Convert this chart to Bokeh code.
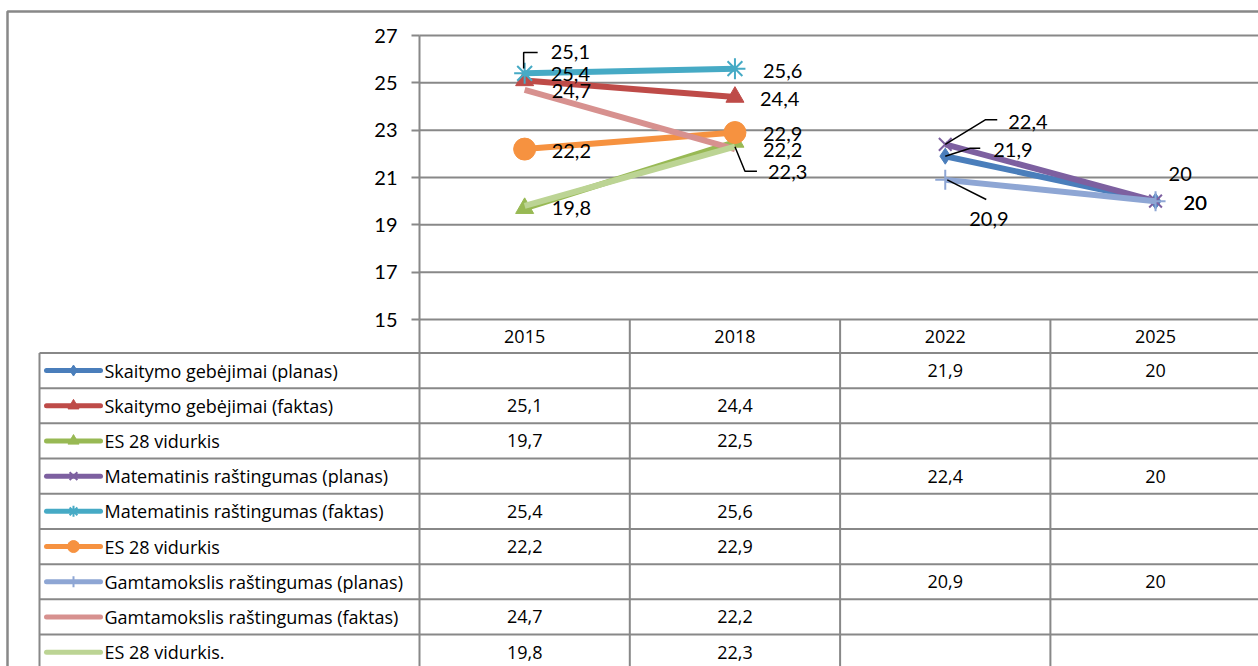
import math
from bokeh.plotting import figure
from bokeh.models import Range1d, LinearAxis, FixedTicker, ColumnDataSource
from bokeh.embed import file_html
from bokeh.resources import INLINE
from bokeh.core.properties import value

# ---------------- data ----------------
NaN = float("nan")
years = ["2015", "2018", "2022", "2025"]
series_names = [
    "Skaitymo gebėjimai (planas)",
    "Skaitymo gebėjimai (faktas)",
    "ES 28 vidurkis",
    "Matematinis raštingumas (planas)",
    "Matematinis raštingumas (faktas)",
    "ES 28 vidurkis",
    "Gamtamokslis raštingumas (planas)",
    "Gamtamokslis raštingumas (faktas)",
    "ES 28 vidurkis.",
]
skaitymo_planas = [NaN, NaN, 21.9, 20]
skaitymo_faktas = [25.1, 24.4, NaN, NaN]
es28_a = [19.7, 22.5, NaN, NaN]
matem_planas = [NaN, NaN, 22.4, 20]
matem_faktas = [25.4, 25.6, NaN, NaN]
es28_b = [22.2, 22.9, NaN, NaN]
gamt_planas = [NaN, NaN, 20.9, 20]
gamt_faktas = [24.7, 22.2, NaN, NaN]
es28_c = [19.8, 22.3, NaN, NaN]
series_values = [skaitymo_planas, skaitymo_faktas, es28_a, matem_planas,
                 matem_faktas, es28_b, gamt_planas, gamt_faktas, es28_c]
yticks = [15, 17, 19, 21, 23, 25, 27]

# ---------------- styles ----------------
colors = ["#4A7EBB", "#BE4B48", "#98B954", "#7D60A0", "#46AAC5",
          "#F69240", "#8EA6D4", "#D7918F", "#BCD494"]
markers = ["diamond", "triangle", "triangle", "x", "asterisk",
           "circle", "cross", None, None]
msizes = [16, 18, 18, 18, 21, 22, 20, 0, 0]
mwidths = [1, 1, 1, 2, 2, 1, 2, 1, 1]
leg_msizes = [11, 11, 11, 11, 11, 12, 11, 0, 0]

# data labels: (series, category, dx_px, dy_px)
labels_spec = [
    (1, 0, 26, -28), (4, 0, 26, 1), (7, 0, 27, 1),
    (4, 1, 28, 2), (1, 1, 25, 2),
    (5, 0, 27, 2), (5, 1, 28, 1), (7, 1, 28, 1),
    (8, 1, 33, 25), (8, 0, 27, 2),
    (3, 2, 63, -22), (0, 2, 48, -6), (6, 2, 24, 39),
    (0, 3, 13, -27), (3, 3, 28, 2), (6, 3, 28, 2),
]
# leader lines in px offsets from their point
leaders_spec = [
    (1, 0, [(-1, -12), (-1, -28), (13, -28)]),
    (8, 1, [(0, 0), (10, 24.5), (22, 24.5)]),
    (3, 2, [(0, 0), (40, -24.6), (52, -24.6)]),
    (0, 2, [(0, 0), (25, -8), (35, -8)]),
    (6, 2, [(2, 0), (41, 19.6)]),
]

# ---------------- geometry (canvas px) ----------------
W, H = 1258, 666
AX_X = 419          # y axis position
CAT_W = 210.3       # width of one category
Y27, Y15 = 35, 319  # pixel rows of 27 and 15
px_x = CAT_W
px_y = (Y15 - Y27) / 12.0
x_start = (0 - AX_X) / px_x
x_end = (W - AX_X) / px_x
y_end = 27 + Y27 / px_y
y_start = 15 - (H - Y15) / px_y

FONT = "Lato"
TFONT = "Open Sans"
TSIZE = "18px"
GRID = "#888888"

p = figure(width=W, height=H, output_backend="svg", toolbar_location=None,
           x_range=Range1d(x_start, x_end), y_range=Range1d(y_start, y_end),
           x_axis_type=None, y_axis_type=None, min_border=0)
p.outline_line_color = None
p.background_fill_color = "white"
p.border_fill_color = "white"
p.xgrid.visible = False
p.ygrid.visible = False

# table range: row units, 0 at the 15-line, increasing downward
row_px = 35.2
p.extra_y_ranges = {"table": Range1d(start=(H - Y15) / row_px, end=-Y15 / row_px)}

def cx(px):
    return (px - AX_X) / px_x

def cy(py):
    return 27 + (Y27 - py) / px_y

# outer chart border
p.line(x=[cx(7), cx(7), x_end + 1], y=[y_start - 1, cy(11), cy(11)],
       line_color=GRID, line_width=2.5)

# horizontal gridlines (from tick values)
p.segment(x0=[0] * len(yticks), x1=[4] * len(yticks), y0=yticks, y1=yticks,
          line_color=GRID, line_width=2)

# y axis
yaxis = LinearAxis(fixed_location=0, bounds=(15, 27), ticker=FixedTicker(ticks=yticks))
yaxis.axis_line_color = GRID
yaxis.axis_line_width = 2
yaxis.major_tick_line_color = GRID
yaxis.major_tick_line_width = 2
yaxis.major_tick_out = 8
yaxis.major_tick_in = 0
yaxis.minor_tick_line_color = None
yaxis.major_label_text_font = FONT
yaxis.major_label_text_font_size = "20px"
yaxis.major_label_text_color = "black"
yaxis.major_label_standoff = 14
p.add_layout(yaxis, "left")

# ---------------- data table ----------------
head_h = 0.95
n_rows = len(series_names)
leg_left = cx(39)
row_lines = [head_h + k for k in range(n_rows + 1)]
p.segment(x0=[leg_left] * len(row_lines), x1=[4] * len(row_lines),
          y0=row_lines, y1=row_lines, line_color=GRID, line_width=2,
          y_range_name="table")
vx = [leg_left, 0, 1, 2, 3, 4]
vy0 = [head_h, 0, 0, 0, 0, 0]
p.segment(x0=vx, x1=vx, y0=vy0, y1=[n_rows + 2] * len(vx), line_color=GRID,
          line_width=2, y_range_name="table")

cat_x = [i + 0.5 for i in range(len(years))]
p.text(x=cat_x, y=[head_h / 2] * len(years), text=years, text_align="center",
       text_baseline="middle", text_font=value(TFONT), text_font_size=TSIZE,
       text_color="black", y_range_name="table")

row_y = [head_h + k + 0.5 for k in range(n_rows)]
p.text(x=[cx(104)] * n_rows, y=row_y, text=series_names,
       text_align="left", text_baseline="middle", text_font=value(TFONT),
       text_font_size=TSIZE, text_color="black", y_range_name="table")

tx, ty, tt = [], [], []
for k, vals in enumerate(series_values):
    for i, v in enumerate(vals):
        if not math.isnan(v):
            tx.append(cat_x[i])
            ty.append(row_y[k])
            tt.append(("%g" % v).replace(".", ","))
p.text(x=tx, y=ty, text=tt, text_align="center", text_baseline="middle",
       text_font=value(TFONT), text_font_size=TSIZE, text_color="black",
       y_range_name="table")

# legend keys
key_x0 = cx(46)
key_x1 = cx(100)
key_xm = (key_x0 + key_x1) / 2
for k in range(n_rows):
    p.line(x=[key_x0, key_x1], y=[row_y[k], row_y[k]], line_color=colors[k],
           line_width=5, line_cap="round", y_range_name="table")
    if markers[k]:
        p.scatter(x=[key_xm], y=[row_y[k]], marker=markers[k], size=leg_msizes[k],
                  fill_color=colors[k], line_color=colors[k], line_width=mwidths[k],
                  y_range_name="table")

# ---------------- series ----------------
for k, vals in enumerate(series_values):
    src = ColumnDataSource(dict(x=cat_x, y=vals))
    p.line(x="x", y="y", source=src, line_color=colors[k], line_width=6)
    if markers[k]:
        p.scatter(x="x", y="y", source=src, marker=markers[k], size=msizes[k],
                  fill_color=colors[k], line_color=colors[k], line_width=mwidths[k])

# leader lines
lxs, lys = [], []
for (s, c, pts) in leaders_spec:
    x0 = cat_x[c]
    y0 = series_values[s][c]
    lxs.append([x0 + dx / px_x for dx, dy in pts])
    lys.append([y0 - dy / px_y for dx, dy in pts])
p.multi_line(xs=lxs, ys=lys, line_color="black", line_width=1.5)

# data labels
lx, ly, lt, ldx, ldy = [], [], [], [], []
for (s, c, dx, dy) in labels_spec:
    v = series_values[s][c]
    lx.append(cat_x[c])
    ly.append(v)
    lt.append(("%g" % v).replace(".", ","))
    ldx.append(dx)
    ldy.append(dy)
lsrc = ColumnDataSource(dict(x=lx, y=ly, text=lt, dx=ldx, dy=ldy))
p.text(x="x", y="y", text="text", x_offset="dx", y_offset="dy", source=lsrc,
       text_align="left", text_baseline="middle", text_font=value(FONT),
       text_font_size="20px", text_color="black")

open("out.html", "w").write(file_html(p, INLINE))
